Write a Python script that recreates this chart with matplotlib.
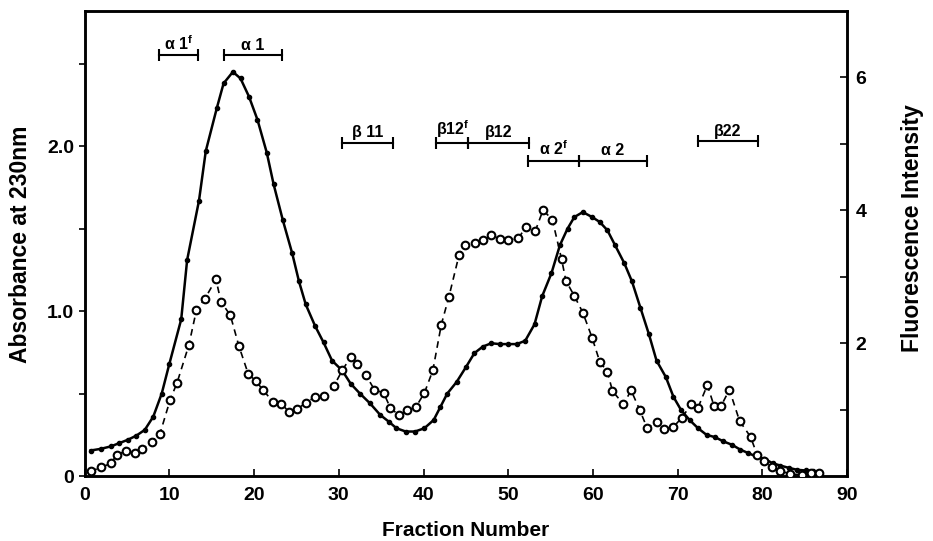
import matplotlib
matplotlib.use('Agg')
import matplotlib.pyplot as plt

plt.rcParams['font.family'] = ['Liberation Sans', 'DejaVu Sans']
plt.rcParams['font.weight'] = 'bold'
plt.rcParams['mathtext.fontset'] = 'custom'
plt.rcParams['mathtext.rm'] = 'Liberation Sans:bold'
plt.rcParams['mathtext.it'] = 'Liberation Sans:bold'

# Absorbance at 230nm (solid line, small dots, left axis)
abs_x = [0.7, 1.9, 3.1, 4.1, 5.1, 6.1, 7.1, 8.1, 9.1, 10.0, 11.4, 12.1, 13.5, 14.3,
         15.6, 16.4, 17.5, 18.4, 19.4, 20.4, 21.5, 22.3, 23.4, 24.5, 25.3, 26.1, 27.2,
         28.2, 29.2, 30.4, 31.4, 32.5, 33.7, 34.9, 35.9, 36.8, 37.9, 39.0, 40.1, 41.2,
         42.0, 42.8, 43.9, 45.0, 46.0, 47.0, 48.0, 49.0, 50.0, 51.0, 52.0, 53.1, 54.0,
         55.1, 56.1, 57.0, 57.8, 58.8, 59.9, 60.8, 61.7, 62.6, 63.7, 64.6, 65.6, 66.6,
         67.5, 68.6, 69.5, 70.4, 71.4, 72.4, 73.4, 74.4, 75.4, 76.4, 77.4, 78.3, 79.2,
         80.2, 81.2, 82.1, 83.1, 84.1, 85.1, 86.0, 86.8]
abs_y = [0.155, 0.165, 0.18, 0.2, 0.22, 0.245, 0.28, 0.36, 0.50, 0.68, 0.95, 1.31, 1.67, 1.97,
         2.23, 2.38, 2.45, 2.41, 2.30, 2.16, 1.96, 1.77, 1.55, 1.35, 1.18, 1.04, 0.91,
         0.81, 0.70, 0.64, 0.56, 0.50, 0.44, 0.37, 0.33, 0.29, 0.27, 0.27, 0.29, 0.34,
         0.42, 0.50, 0.57, 0.66, 0.745, 0.785, 0.805, 0.80, 0.80, 0.80, 0.82, 0.92, 1.09,
         1.23, 1.40, 1.50, 1.57, 1.60, 1.57, 1.54, 1.49, 1.40, 1.29, 1.18, 1.02, 0.86,
         0.70, 0.60, 0.48, 0.40, 0.34, 0.29, 0.25, 0.236, 0.21, 0.19, 0.16, 0.14, 0.12,
         0.105, 0.078, 0.064, 0.05, 0.038, 0.034, 0.03, 0.027]

# Fluorescence intensity (dashed line, open circles, right axis)
fl_x = [0.7, 1.9, 3.1, 3.8, 4.9, 5.9, 6.8, 7.9, 8.9, 10.1, 10.9, 12.3, 13.2, 14.2, 15.5,
        16.1, 17.2, 18.2, 19.3, 20.2, 21.1, 22.2, 23.2, 24.1, 25.1, 26.1, 27.2, 28.2,
        29.4, 30.4, 31.4, 32.1, 33.2, 34.2, 35.3, 36.1, 37.1, 38.1, 39.1, 40.1, 41.1,
        42.1, 43.0, 44.2, 44.9, 46.1, 47.0, 48.0, 49.0, 50.0, 51.2, 52.1, 53.2, 54.1,
        55.2, 56.3, 56.8, 57.8, 58.8, 59.9, 60.8, 61.7, 62.3, 63.6, 64.5, 65.5, 66.4,
        67.5, 68.4, 69.5, 70.5, 71.6, 72.4, 73.5, 74.3, 75.1, 76.1, 77.3, 78.6, 79.4,
        80.2, 81.1, 82.1, 83.3, 84.7, 85.7, 86.7]
fl_y = [0.07, 0.13, 0.19, 0.32, 0.38, 0.34, 0.40, 0.52, 0.64, 1.15, 1.40, 1.97, 2.50, 2.67,
        2.96, 2.62, 2.42, 1.96, 1.54, 1.43, 1.29, 1.12, 1.09, 0.97, 1.01, 1.10, 1.19,
        1.21, 1.35, 1.59, 1.79, 1.68, 1.52, 1.30, 1.25, 1.02, 0.92, 0.99, 1.04, 1.25,
        1.59, 2.28, 2.70, 3.33, 3.48, 3.51, 3.55, 3.62, 3.57, 3.55, 3.58, 3.75, 3.69,
        4.00, 3.86, 3.26, 2.94, 2.71, 2.46, 2.08, 1.72, 1.57, 1.28, 1.08, 1.29, 1.00,
        0.72, 0.82, 0.71, 0.74, 0.88, 1.08, 1.03, 1.37, 1.05, 1.05, 1.30, 0.83, 0.59,
        0.31, 0.22, 0.14, 0.08, 0.03, 0.02, 0.05, 0.05]

# Pooled fractions (label, first, last, height on absorbance scale)
pools = [(r'α 1$^\mathrm{f}$', 8.8, 13.4, 2.55),
         ('α 1', 16.4, 23.3, 2.55),
         ('β 11', 30.4, 36.4, 2.02),
         (r'β12$^\mathrm{f}$', 41.5, 45.3, 2.02),
         ('β12', 45.3, 52.5, 2.02),
         (r'α 2$^\mathrm{f}$', 52.3, 58.3, 1.91),
         ('α 2', 58.3, 66.4, 1.91),
         ('β22', 72.4, 79.5, 2.03)]

fig = plt.figure(figsize=(9.33, 5.41), dpi=100)
ax = fig.add_axes([0.0907, 0.120, 0.8173, 0.860])
ax2 = ax.twinx()

ax.plot(abs_x, abs_y, color='black', lw=1.8, marker='o', markersize=3, zorder=3)
ax2.plot(fl_x, fl_y, color='black', lw=1.2, ls=(0, (4, 3)), marker='o', markersize=5.5,
         markerfacecolor='white', markeredgewidth=1.5, zorder=3)

for label, x0, x1, y in pools:
    ax.plot([x0, x1], [y, y], color='black', lw=1.5, marker='|', markersize=8,
            markeredgewidth=1.5)
    ax.text((x0 + x1) / 2, y + 0.015, label, ha='center', va='bottom', fontsize=11.5,
            fontweight='bold')

ax.set_xlim(0, 90)
ax.set_ylim(0, 2.82)
ax2.set_ylim(0, 7.0)

ax.set_xticks(range(0, 91, 10))
ax.set_yticks([0, 1.0, 2.0])
ax.set_yticklabels(['0', '1.0', '2.0'])
ax.set_yticks([0.5, 1.5, 2.5], minor=True)
ax2.set_yticks([2, 4, 6])
ax2.set_yticks([1, 3, 5], minor=True)

ax.tick_params(axis='x', direction='in', length=5, width=1.2, labelsize=14, pad=8)
ax.tick_params(axis='y', which='both', direction='out', length=4, width=1.2,
               labelsize=14, left=True, right=False)
ax2.tick_params(axis='y', which='both', direction='in', length=5, width=1.2,
                labelsize=14, pad=6)

for sp in ax.spines.values():
    sp.set_linewidth(1.8)
for sp in ax2.spines.values():
    sp.set_linewidth(1.8)

ax.set_xlabel('Fraction Number', fontsize=15, fontweight='bold', labelpad=12)
fig.text(21 / 933, 1 - 244 / 541, 'Absorbance at 230nm', rotation=90, ha='center',
         va='center', fontsize=16.5, fontweight='bold')
fig.text(912 / 933, 1 - 228 / 541, 'Fluorescence Intensity', rotation=90, ha='center',
         va='center', fontsize=16.5, fontweight='bold')

fig.savefig('out.png', dpi=100)
